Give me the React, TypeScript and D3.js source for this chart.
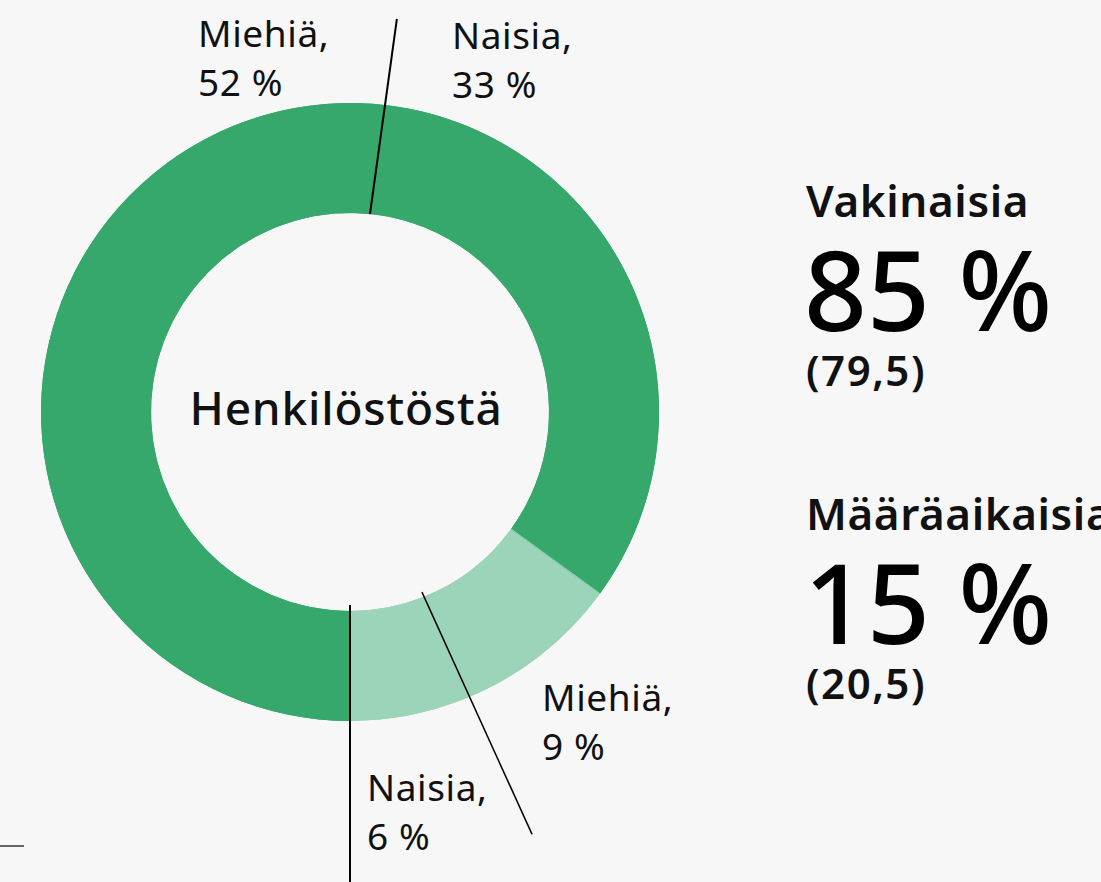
import React from "react";
import * as d3 from "d3";

// slices clockwise, starting from the Miehiä/Naisia seam near the top
const sliceLabels = ["Naisia, 33 %", "Miehiä, 9 %", "Naisia, 6 %", "Miehiä, 52 %"];
const sliceValues = [33, 9, 6, 52];
const sliceGroups = ["Vakinaisia", "Määräaikaisia", "Määräaikaisia", "Vakinaisia"];

const groupNames = ["Vakinaisia", "Määräaikaisia"];
const groupShares = ["85 %", "15 %"];
const groupPrev = ["(79,5)", "(20,5)"];

const W = 1101;
const H = 882;
const FONT = "'Noto Sans', 'Open Sans', sans-serif";

export default function App() {
  const cx = 350;
  const cy = 412;
  const outerR = 309;
  const innerR = 199;
  // light section ends straight down
  const total = d3.sum(sliceValues);
  const start = Math.PI - (2 * Math.PI * (total - sliceValues[3])) / total;

  const color = d3
    .scaleOrdinal<string, string>()
    .domain(groupNames)
    .range(["#36a86c", "#9bd4b8"]);

  const pie = d3
    .pie<number>()
    .sort(null)
    .startAngle(start)
    .endAngle(start + Math.PI * 2);
  const arcs = pie(sliceValues);
  const arc = d3.arc<d3.PieArcDatum<number>>().innerRadius(innerR).outerRadius(outerR);

  const pt = (a: number, r: number) => [cx + Math.sin(a) * r, cy - Math.cos(a) * r];

  // leader lines: angle taken from slice boundaries, with small tilt at each end
  const leaders = [
    { a: arcs[0].startAngle, d0: -0.025, d1: -0.007, r0: innerR, r1: 396, w: 2 },
    { a: arcs[1].endAngle, d0: -0.003, d1: -0.03, r0: innerR - 5, r1: 460, w: 1.5 },
    { a: arcs[2].endAngle, d0: 0, d1: 0, r0: innerR - 6, r1: 480, w: 2 },
  ];

  const labelPos = [
    { x: 452, y: 49 },
    { x: 542, y: 711 },
    { x: 367, y: 801 },
    { x: 198, y: 47 },
  ];

  // same-colour neighbours: stroke hides the anti-aliasing seam
  const seamArc = d3.arc<d3.PieArcDatum<number>>().innerRadius(innerR + 0.5).outerRadius(outerR - 0.5);

  return (
    <svg width={W} height={H} style={{ position: "absolute", left: 0, top: 0, background: "#f7f7f7" }}>
      <rect width={W} height={H} fill="#f7f7f7" />
      <g transform={`translate(${cx},${cy})`}>
        {arcs.map((d, i) => (
          <path key={i} d={arc(d) || ""} fill={color(sliceGroups[i])} />
        ))}
        {arcs.map((d, i) => (
          <path key={"s" + i} d={seamArc(d) || ""} fill="none" stroke={color(sliceGroups[i])} strokeWidth={1} />
        ))}
      </g>
      {leaders.map((l, i) => {
        const [x1, y1] = pt(l.a + l.d0, l.r0);
        const [x2, y2] = pt(l.a + l.d1, l.r1);
        return <line key={i} x1={x1} y1={y1} x2={x2} y2={y2} stroke="#000" strokeWidth={l.w} />;
      })}
      {sliceLabels.map((s, i) => {
        const parts = s.split(", ");
        return (
          <text key={i} x={labelPos[i].x} y={labelPos[i].y} fontFamily={FONT} fontSize={37} letterSpacing={0.6} fill="#111">
            <tspan x={labelPos[i].x}>{parts[0] + ","}</tspan>
            <tspan x={labelPos[i].x} dy={49}>{parts[1]}</tspan>
          </text>
        );
      })}
      <text x={346} y={425} textAnchor="middle" fontFamily={FONT} fontWeight={500} fontSize={46} letterSpacing={0.8} fill="#111">
        Henkilöstöstä
      </text>
      {groupNames.map((g, i) => {
        const y0 = i === 0 ? 217 : 530;
        return (
          <g key={g}>
            <text x={806} y={y0} fontFamily={FONT} fontWeight={600} fontSize={44} letterSpacing={0.6} fill="#111">{g}</text>
            <text x={804} y={y0 + 114} fontFamily={FONT} fontWeight={500} fontSize={110} fill="#000">{groupShares[i]}</text>
            <text x={806} y={y0 + 169} fontFamily={FONT} fontWeight={600} fontSize={42} letterSpacing={1.5} fill="#111">{groupPrev[i]}</text>
          </g>
        );
      })}
      <line x1={0} y1={846} x2={24} y2={846} stroke="#666" strokeWidth={2} />
    </svg>
  );
}
